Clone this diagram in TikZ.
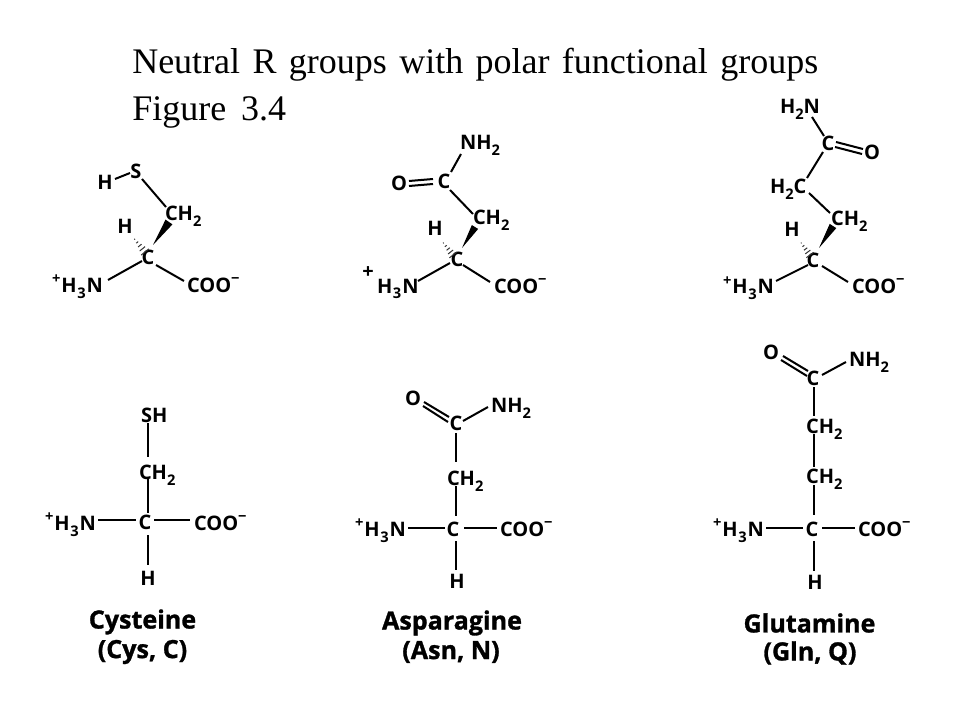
\documentclass[tikz,border=0pt]{standalone}
\usepackage{fontspec}
\setmainfont{Liberation Serif}
\newfontfamily\chemfont{Open Sans}
\newfontfamily\namefont[FakeBold=1.2]{Open Sans}
\usetikzlibrary{calc}
\newcommand\lowidx[1]{\raisebox{-0.3em}{\fontsize{11}{12}\selectfont #1}}
\newcommand\hiidx[1]{\raisebox{0.42em}{\fontsize{11}{12}\selectfont #1}}
\newcommand\plusHthreeN{\hiidx{+}\kern0.8pt H\kern0.4pt\lowidx{3}\kern0.8pt N}
\tikzset{
  atom/.style={inner sep=0pt,outer sep=0pt,text height=10.5pt,text depth=0pt,text=black,font=\chemfont\bfseries\fontsize{15}{16}\selectfont},
  leftatom/.style={atom,anchor=west},
  aminoname/.style={inner sep=0pt,text=black,font=\namefont\bfseries\fontsize{18.8}{20}\selectfont},
  titletext/.style={inner sep=0pt,anchor=base west,font=\fontsize{27}{30}\selectfont,text=black},
  bondline/.style={line width=1.5pt,draw=black},
  wedgefill/.style={fill=black,draw=none},
  hashline/.style={line width=0.75pt,draw=black!80}
}
% wedge: narrow end at #1, wide end around #2
\newcommand\wedgebond[2]{\fill[wedgefill] (#1) -- ($(#2)!4.5!90:($(#2)!1/\wedgelen!(#1)$)$) -- ($(#2)!4.5!-90:($(#2)!1/\wedgelen!(#1)$)$) -- cycle;}
\def\wedgelen{30}
% hashed bond from #1 (wide, next to the centre) to #2
\newcommand\hashbond[2]{\foreach \t/\w in {0/0.24,0.2/0.21,0.4/0.18,0.6/0.15,0.8/0.12,1/0.09}{%
  \draw[hashline] ($(#1)!\t!(#2)!\w!90:(#2)$) -- ($(#1)!\t!(#2)!\w!-90:(#2)$);}}
\begin{document}
\begin{tikzpicture}[x=0.75pt,y=-0.75pt]
\useasboundingbox (0,0) rectangle (960,720);
\fill[white] (0,0) rectangle (960,720);

% title
\node[titletext] (ttl) at (132,74) {\makebox[514.5pt][s]{Neutral R groups with polar functional groups}};
\node[titletext] (fig) at (132,121) {\makebox[115.5pt][s]{Figure 3.4}};

% ---------- Cysteine, wedge form
\node[atom] (a1s) at (136,172) {S};
\node[atom] (a1h) at (105,183) {H};
\node[leftatom] (a1ch) at (165,214) {CH\lowidx{2}};
\node[atom] (a1hh) at (125,227) {H};
\node[atom] (a1c) at (148,258) {C};
\node[leftatom] (a1n) at (52,285) {\plusHthreeN};
\node[leftatom] (a1o) at (187,285) {COO\hiidx{−}};
\draw[bondline] ([shift={(10,-4)}]a1h.center) -- ([shift={(-6,1)}]a1s.center);
\draw[bondline] ([shift={(6,7)}]a1s.center) -- ([shift={(1,-7)}]a1ch.west);
\draw[bondline] ([shift={(56,-5)}]a1n.west) -- ([shift={(-6,3)}]a1c.center);
\draw[bondline] ([shift={(8,7)}]a1c.center) -- ([shift={(-3,-4)}]a1o.west);
\coordinate (w1a) at ([shift={(5,-13)}]a1c.center);
\coordinate (w1b) at ([shift={(4,8)}]a1ch.west);
\wedgebond{w1a}{w1b}
\hashbond{$(a1c.center)+(-3,-6)$}{$(a1hh.center)+(7,9)$}

% ---------- Asparagine, wedge form
\node[leftatom] (a2n) at (460,143) {NH\lowidx{2}};
\node[atom] (a2c) at (444,182) {C};
\node[atom] (a2o) at (399,184) {O};
\node[leftatom] (a2ch) at (473,218) {CH\lowidx{2}};
\node[atom] (a2hh) at (435,229) {H};
\node[atom] (a2cc) at (457,260) {C};
\node[atom] (a2plus) at (368,272) {+};
\node[leftatom] (a2nn) at (377,286) {H\kern0.4pt\lowidx{3}\kern0.8pt N};
\node[leftatom] (a2oo) at (494,286) {COO\hiidx{−}};
\draw[bondline] ([shift={(10,-3)}]a2o.center) -- ([shift={(-11,-3)}]a2c.center);
\draw[bondline] ([shift={(10,2)}]a2o.center) -- ([shift={(-11,2)}]a2c.center);
\draw[bondline] ([shift={(7,-10)}]a2c.center) -- ([shift={(1,11)}]a2n.west);
\draw[bondline] ([shift={(6,8)}]a2c.center) -- ([shift={(0,-4)}]a2ch.west);
\draw[bondline] ([shift={(41,-5)}]a2nn.west) -- ([shift={(-7,3)}]a2cc.center);
\draw[bondline] ([shift={(6,5)}]a2cc.center) -- ([shift={(-4,-4)}]a2oo.west);
\coordinate (w2a) at ([shift={(5,-12)}]a2cc.center);
\coordinate (w2b) at ([shift={(2,9)}]a2ch.west);
\wedgebond{w2a}{w2b}
\hashbond{$(a2cc.center)+(-4,-5)$}{$(a2hh.center)+(6,11)$}

% ---------- Glutamine, wedge form
\node[leftatom] (a3n) at (780,107) {H\lowidx{2}N};
\node[atom] (a3c) at (828,144) {C};
\node[atom] (a3o) at (872,153) {O};
\node[leftatom] (a3d) at (770,187) {H\lowidx{2}C};
\node[leftatom] (a3ch) at (831,219) {CH\lowidx{2}};
\node[atom] (a3hh) at (792,230) {H};
\node[atom] (a3cc) at (813,261) {C};
\node[leftatom] (a3nn) at (723,287) {\plusHthreeN};
\node[leftatom] (a3oo) at (852,286) {COO\hiidx{−}};
\draw[bondline] ([shift={(32,10)}]a3n.west) -- ([shift={(-4,-8)}]a3c.center);
\draw[bondline] ([shift={(8,-2)}]a3c.center) -- ([shift={(-9,-4)}]a3o.center);
\draw[bondline] ([shift={(7,3)}]a3c.center) -- ([shift={(-10,1)}]a3o.center);
\draw[bondline] ([shift={(-5,8)}]a3c.center) -- ([shift={(37,-9)}]a3d.west);
\draw[bondline] ([shift={(39,6)}]a3d.west) -- ([shift={(-1,-6)}]a3ch.west);
\draw[bondline] ([shift={(53,-6)}]a3nn.west) -- ([shift={(-5,4)}]a3cc.center);
\draw[bondline] ([shift={(9,5)}]a3cc.center) -- ([shift={(-4,-4)}]a3oo.west);
\coordinate (w3a) at ([shift={(6,-13)}]a3cc.center);
\coordinate (w3b) at ([shift={(2,7)}]a3ch.west);
\wedgebond{w3a}{w3b}
\hashbond{$(a3cc.center)+(-3,-6)$}{$(a3hh.center)+(7,10)$}

% ---------- Cysteine, Fischer form
\node[leftatom] (b1s) at (141,415) {SH};
\node[leftatom] (b1ch) at (139,472) {CH\lowidx{2}};
\node[atom] (b1c) at (145,522) {C};
\node[leftatom] (b1n) at (45,523) {\plusHthreeN};
\node[leftatom] (b1o) at (194,523) {COO\hiidx{−}};
\node[atom] (b1h) at (148,578) {H};
\node[aminoname] (b1l) at (142.5,622) {Cysteine};
\node[aminoname] (b1m) at (142.5,652) {(Cys, C)};
\draw[bondline] ([shift={(7,8)}]b1s.west) -- ([shift={(9,-15)}]b1ch.west);
\draw[bondline] ([shift={(9,7)}]b1ch.west) -- ([shift={(3,-9)}]b1c.center);
\draw[bondline] ([shift={(53,-3)}]b1n.west) -- ([shift={(-9,-2)}]b1c.center);
\draw[bondline] ([shift={(9,-2)}]b1c.center) -- ([shift={(-4,-3)}]b1o.west);
\draw[bondline] ([shift={(3,13)}]b1c.center) -- ([shift={(0,-13)}]b1h.center);

% ---------- Asparagine, Fischer form
\node[atom] (b2o) at (413,398) {O};
\node[atom] (b2c) at (456,423) {C};
\node[leftatom] (b2n) at (491,405) {NH\lowidx{2}};
\node[leftatom] (b2ch) at (447,478) {CH\lowidx{2}};
\node[atom] (b2cc) at (453,529) {C};
\node[leftatom] (b2nn) at (355,529) {\plusHthreeN};
\node[leftatom] (b2oo) at (500,529) {COO\hiidx{−}};
\node[atom] (b2h) at (457,581) {H};
\node[aminoname] (b2l) at (452,623) {Asparagine};
\node[aminoname] (b2m) at (451,652) {(Asn, N)};
\draw[bondline] ([shift={(11,4)}]b2o.center) -- ([shift={(-7,-6)}]b2c.center);
\draw[bondline] ([shift={(10,8)}]b2o.center) -- ([shift={(-8,-1)}]b2c.center);
\draw[bondline] ([shift={(7,-2)}]b2c.center) -- ([shift={(-3,2)}]b2n.west);
\draw[bondline] ([shift={(0,10)}]b2c.center) -- ([shift={(9,-16)}]b2ch.west);
\draw[bondline] ([shift={(9,8)}]b2ch.west) -- ([shift={(3,-13)}]b2cc.center);
\draw[bondline] ([shift={(53,-1)}]b2nn.west) -- ([shift={(-8,-1)}]b2cc.center);
\draw[bondline] ([shift={(11,-1)}]b2cc.center) -- ([shift={(-3,-1)}]b2oo.west);
\draw[bondline] ([shift={(3,12)}]b2cc.center) -- ([shift={(-1,-11)}]b2h.center);

% ---------- Glutamine, Fischer form
\node[atom] (b3o) at (771,352) {O};
\node[atom] (b3c) at (813,378) {C};
\node[leftatom] (b3n) at (849,359) {NH\lowidx{2}};
\node[leftatom] (b3d) at (806,426) {CH\lowidx{2}};
\node[leftatom] (b3ch) at (806,476) {CH\lowidx{2}};
\node[atom] (b3cc) at (812,529) {C};
\node[leftatom] (b3nn) at (713,529) {\plusHthreeN};
\node[leftatom] (b3oo) at (858,529) {COO\hiidx{−}};
\node[atom] (b3h) at (815,582) {H};
\node[aminoname] (b3l) at (809.5,623) {Glutamine};
\node[aminoname] (b3m) at (810,653) {(Gln, Q)};
\draw[bondline] ([shift={(12,4)}]b3o.center) -- ([shift={(-5,-7)}]b3c.center);
\draw[bondline] ([shift={(10,8)}]b3o.center) -- ([shift={(-6,-2)}]b3c.center);
\draw[bondline] ([shift={(9,-3)}]b3c.center) -- ([shift={(-3,3)}]b3n.west);
\draw[bondline] ([shift={(1,9)}]b3c.center) -- ([shift={(8,-10)}]b3d.west);
\draw[bondline] ([shift={(8,8)}]b3d.west) -- ([shift={(8,-9)}]b3ch.west);
\draw[bondline] ([shift={(8,9)}]b3ch.west) -- ([shift={(2,-14)}]b3cc.center);
\draw[bondline] ([shift={(53,-1)}]b3nn.west) -- ([shift={(-9,-1)}]b3cc.center);
\draw[bondline] ([shift={(10,-1)}]b3cc.center) -- ([shift={(-3,-1)}]b3oo.west);
\draw[bondline] ([shift={(2,12)}]b3cc.center) -- ([shift={(-1,-11)}]b3h.center);
\end{tikzpicture}
\end{document}
